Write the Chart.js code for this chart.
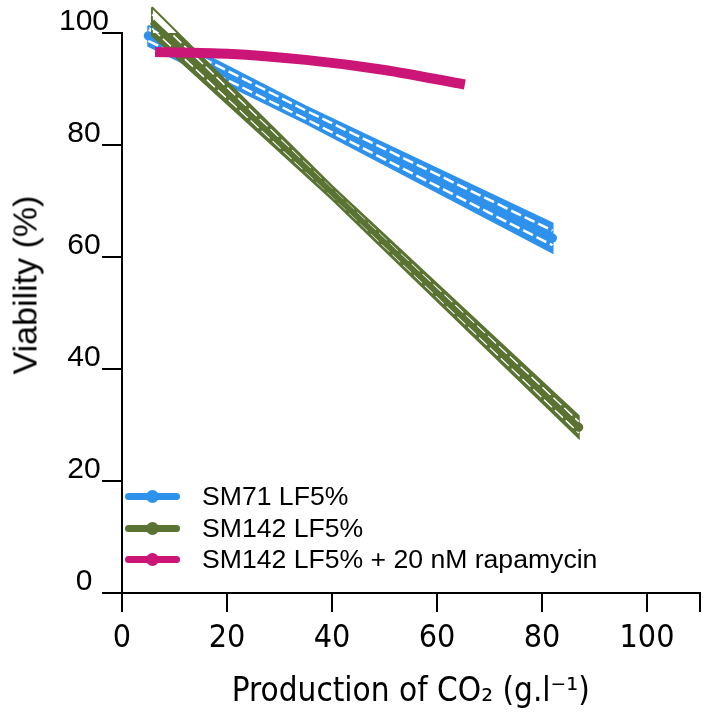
<!DOCTYPE html>
<html>
<head>
<meta charset="utf-8">
<script src="https://cdn.jsdelivr.net/npm/chart.js@4.4.1/dist/chart.umd.min.js"></script>
<style>
  html, body { margin: 0; padding: 0; background: #ffffff; }
  #wrap { position: relative; width: 708px; height: 723px; }
  #legend { position: absolute; left: 125px; top: 481px; font-family: "Liberation Sans", Arial, sans-serif; font-size: 26.6px; color: #000; }
  .row { position: relative; height: 31.5px; line-height: 31.5px; white-space: nowrap; }
  .sym { position: absolute; left: 0; top: 12px; width: 55px; height: 7px; border-radius: 4px; }
  .dot { position: absolute; left: 21px; top: -3px; width: 13px; height: 13px; border-radius: 50%; }
  .txt { position: absolute; left: 77px; top: 0; }
  #ytitle { position: absolute; left: 25px; top: 285px; transform: translate(-50%, -50%) rotate(-90deg);
            font-family: "Liberation Sans", Arial, sans-serif; font-size: 34px; color: #000; white-space: nowrap; }
</style>
</head>
<body>
<div id="wrap">
  <canvas id="c" width="708" height="723"></canvas>
  <div id="legend"></div>
  <div id="ytitle"></div>
</div>
<script>
// ---- data ----
const seriesNames = ['SM71 LF5%', 'SM142 LF5%', 'SM142 LF5% + 20 nM rapamycin'];
const seriesColors = ['#2E92EC', '#5A7332', '#CB1577'];
const xTitle = 'Production of CO₂ (g.l⁻¹)';
const yTitle = 'Viability (%)';

const xTicks = [0, 20, 40, 60, 80, 100];
const yTicks = [0, 20, 40, 60, 80, 100];

// SM71 LF5%
const sm71X       = [5.0, 35.0, 82.0];
const sm71Y       = [99.5, 85.4, 63.4];
const sm71Upper   = [101.3, 86.9, 66.0];
const sm71Lower   = [97.7, 83.9, 60.8];
const sm71InnerUp = [100.4, 86.15, 64.7];
const sm71InnerLo = [98.6, 84.65, 62.1];

// SM142 LF5%
const sm142X       = [5.7, 40.0, 87.0];
const sm142Y       = [102.0, 71.5, 29.6];
const sm142Upper   = [104.6, 72.7, 31.6];
const sm142Lower   = [99.6, 70.3, 27.7];
const sm142InnerUp = [103.3, 72.1, 30.6];
const sm142InnerLo = [100.8, 70.9, 28.6];

// SM142 LF5% + 20 nM rapamycin
const rapaX = [6.3, 20.0, 35.0, 50.0, 65.3];
const rapaY = [96.6, 96.3, 95.2, 93.4, 90.8];

// ---- helpers to build library datasets ----
function pts(xs, ys) { return xs.map((x, i) => ({ x: x, y: ys[i] })); }
function polygon(xs, up, lo) {
  const top = xs.map((x, i) => ({ x: x, y: up[i] }));
  const bot = xs.map((x, i) => ({ x: x, y: lo[i] })).reverse();
  return top.concat(bot, [top[0]]);
}
function endDots(n, r) {
  return (ctx) => (ctx.dataIndex === 0 || ctx.dataIndex === n - 1) ? r : 0;
}

function bandSets(xs, ys, up, lo, iu, il, color, baseOrder, centerW, dashW) {
  return [
    { data: polygon(xs, up, lo), borderColor: color, backgroundColor: color, borderWidth: 2,
      fill: 'shape', pointRadius: 0, order: baseOrder + 3, tension: 0 },
    { data: pts(xs, iu), borderColor: '#ffffff', borderWidth: dashW, borderDash: [11, 4],
      fill: false, pointRadius: 0, order: baseOrder + 2 },
    { data: pts(xs, il), borderColor: '#ffffff', borderWidth: dashW, borderDash: [11, 4],
      fill: false, pointRadius: 0, order: baseOrder + 2 },
    { data: pts(xs, ys), borderColor: color, backgroundColor: color, borderWidth: centerW,
      fill: false, pointRadius: endDots(xs.length, 4.5), pointBorderWidth: 0, order: baseOrder + 1 }
  ];
}

const datasets = []
  .concat(bandSets(sm71X, sm71Y, sm71Upper, sm71Lower, sm71InnerUp, sm71InnerLo, seriesColors[0], 20, 5, 2.5))
  .concat(bandSets(sm142X, sm142Y, sm142Upper, sm142Lower, sm142InnerUp, sm142InnerLo, seriesColors[1], 10, 6, 1.6))
  .concat([{ data: pts(rapaX, rapaY), borderColor: seriesColors[2], backgroundColor: seriesColors[2],
             borderWidth: 10, fill: false, cubicInterpolationMode: 'monotone',
             pointRadius: 0, order: 1 }]);
datasets.forEach(d => { d.clip = false; });

const tickFontY = { family: '"Liberation Sans", Arial, sans-serif', size: 30 };
const narrowFam = '"Liberation Sans Narrow", "Arial Narrow", "DejaVu Sans Condensed", sans-serif';
const tickFontX = { family: narrowFam, size: 32 };
const titleFontX = { family: narrowFam, size: 33 };

new Chart(document.getElementById('c'), {
  type: 'line',
  data: { datasets: datasets },
  options: {
    responsive: false,
    animation: false,
    devicePixelRatio: 1,
    layout: { padding: { top: 33, right: 8.5, left: 0, bottom: 0 } },
    plugins: { legend: { display: false }, tooltip: { enabled: false } },
    elements: { line: { borderCapStyle: 'butt', borderJoinStyle: 'miter' } },
    scales: {
      x: {
        type: 'linear', min: 0, max: 110,
        afterFit: (s) => { s.height = 130; },
        afterBuildTicks: (s) => { s.ticks = xTicks.concat([110]).map(v => ({ value: v })); },
        ticks: { font: tickFontX, color: '#000', padding: 7, maxRotation: 0,
                 callback: (v) => xTicks.includes(v) ? String(v) : '' },
        grid: { drawOnChartArea: false, drawTicks: true, tickLength: 19, color: '#000', lineWidth: 2 },
        border: { display: true, color: '#000', width: 2 },
        title: { display: true, text: xTitle, font: titleFontX, color: '#000',
                 padding: { top: 0, bottom: 11 } }
      },
      y: {
        type: 'linear', min: 0, max: 100,
        afterFit: (s) => { s.width = 122; },
        afterBuildTicks: (s) => { s.ticks = yTicks.map(v => ({ value: v })); },
        ticks: { font: tickFontY, color: '#000', padding: -7, crossAlign: 'center', labelOffset: -11 },
        grid: { drawOnChartArea: false, drawTicks: true, tickLength: 20, color: '#000', lineWidth: 2 },
        border: { display: true, color: '#000', width: 2 },
        title: { display: false }
      }
    }
  }
});

document.getElementById('ytitle').textContent = yTitle;

// ---- HTML legend built from the series arrays ----
const lg = document.getElementById('legend');
seriesNames.forEach((name, i) => {
  const row = document.createElement('div'); row.className = 'row';
  const sym = document.createElement('div'); sym.className = 'sym'; sym.style.background = seriesColors[i];
  const dot = document.createElement('div'); dot.className = 'dot'; dot.style.background = seriesColors[i];
  sym.appendChild(dot);
  const txt = document.createElement('span'); txt.className = 'txt'; txt.textContent = name;
  row.appendChild(sym); row.appendChild(txt);
  lg.appendChild(row);
});
</script>
</body>
</html>
